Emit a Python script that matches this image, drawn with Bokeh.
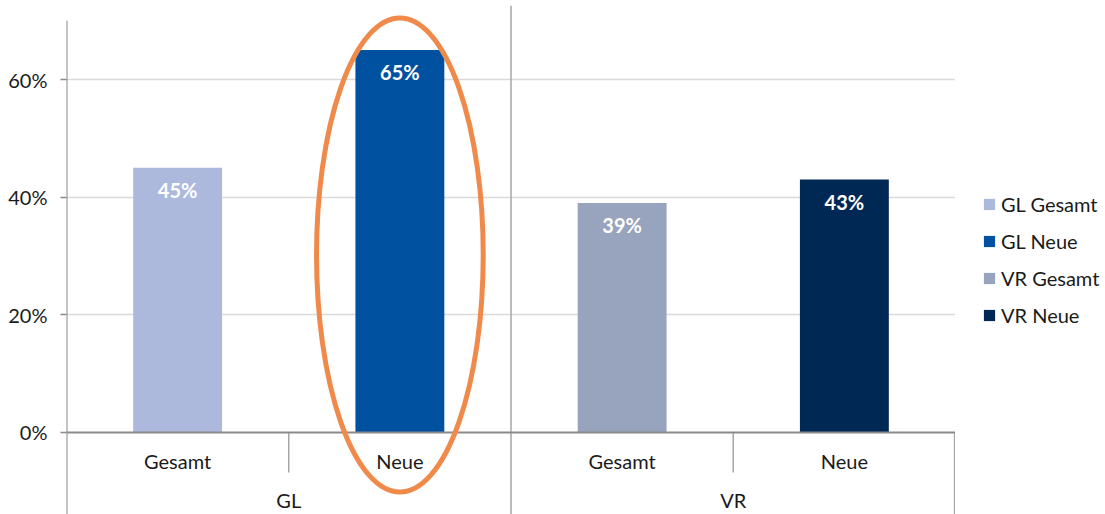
from bokeh.plotting import figure
from bokeh.models import (FactorRange, Range1d, FixedTicker, PrintfTickFormatter,
                          Legend, LegendItem)
from bokeh.layouts import row
from bokeh.core.properties import value
from bokeh.embed import file_html
from bokeh.resources import INLINE

# ---- data ----
groups = ["GL", "GL", "VR", "VR"]
subcats = ["Gesamt", "Neue", "Gesamt", "Neue"]
values = [45, 65, 39, 43]
series_names = ["GL Gesamt", "GL Neue", "VR Gesamt", "VR Neue"]
colors = ["#ACB9DD", "#0052A0", "#98A3BE", "#002855"]
y_ticks = [0, 20, 40, 60]
group_names = ["GL", "VR"]
highlight = ("GL", "Neue")

FONT = "Lato"
TXT = "#1a1a1a"
AXIS_GRAY = "#8a8a8a"
SEP_GRAY = "#a6a6a6"
FS = "20px"

factors = list(zip(groups, subcats))
y_lo, y_hi = -13.94, 72.58

p = figure(width=955, height=514,
           x_range=FactorRange(*factors, factor_padding=0, group_padding=0,
                               subgroup_padding=0, range_padding=0),
           y_range=Range1d(y_lo, y_hi),
           output_backend="svg", toolbar_location=None, title=None,
           x_axis_location=None,
           min_border_left=66, min_border_right=0,
           min_border_top=5, min_border_bottom=0)
p.outline_line_color = None
p.background_fill_color = "white"

# y axis
yax = p.yaxis[0]
yax.ticker = FixedTicker(ticks=y_ticks)
yax.formatter = PrintfTickFormatter(format="%d%%")
yax.axis_line_color = None
yax.major_tick_line_color = AXIS_GRAY
yax.major_tick_line_width = 1.5
yax.major_tick_out = 6
yax.major_tick_in = 0
yax.minor_tick_line_color = None
yax.major_label_standoff = 13
yax.major_label_text_font = FONT
yax.major_label_text_font_size = FS
yax.major_label_text_color = TXT

p.xgrid.visible = False
p.ygrid.ticker = FixedTicker(ticks=y_ticks[1:])
p.ygrid.grid_line_color = "#d9d9d9"
p.ygrid.grid_line_width = 1.5

n = len(factors)
# structural lines (synthetic category coordinates)
p.segment(x0=[0], y0=[y_lo], x1=[0], y1=[70], line_color=AXIS_GRAY, line_width=2)
p.segment(x0=[n // 2], y0=[y_lo], x1=[n // 2], y1=[y_hi], line_color=SEP_GRAY, line_width=1.5)
p.segment(x0=[1, 3], y0=[0, 0], x1=[1, 3], y1=[-6.8, -6.8], line_color=SEP_GRAY, line_width=1.5)
p.segment(x0=[n - 0.004], y0=[0], x1=[n - 0.004], y1=[y_lo], line_color=SEP_GRAY, line_width=1.5)

# bars
for f, v, c in zip(factors, values, colors):
    p.vbar(x=[f], top=[v], bottom=0, width=0.4, fill_color=c, line_color=None)

p.segment(x0=[0], y0=[0], x1=[n], y1=[0], line_color=AXIS_GRAY, line_width=2)

# value labels
p.text(x=factors, y=values, text=[f"{v}%" for v in values], y_offset=22,
       text_align="center", text_baseline="middle", text_color="white",
       text_font=value(FONT), text_font_style="bold", text_font_size=FS)

# category labels
p.text(x=factors, y=[-4.93] * n, text=subcats, text_align="center",
       text_baseline="middle", text_color=TXT, text_font=value(FONT),
       text_font_size=FS)
p.text(x=group_names, y=[-11.56] * len(group_names), text=group_names,
       text_align="center", text_baseline="middle", text_color=TXT,
       text_font=value(FONT), text_font_size=FS)

# highlight ellipse
p.ellipse(x=[highlight], y=[30.17], width=0.75, height=80.6,
          fill_color=None, line_color="#F08A4B", line_width=5)

# ---- legend panel ----
lg = figure(width=150, height=514, x_range=FactorRange(*series_names), y_range=Range1d(0, 1),
            output_backend="svg", toolbar_location=None, title=None,
            x_axis_location=None, y_axis_location=None,
            min_border_left=0, min_border_right=0, min_border_top=0, min_border_bottom=0)
lg.outline_line_color = None
lg.xgrid.visible = False
lg.ygrid.visible = False
items = []
for name, c in zip(series_names, colors):
    # zero-height proxy bar: only its legend swatch is visible
    r = lg.vbar(x=[name], top=[0], bottom=[0], width=0, fill_color=c, line_color=None)
    items.append(LegendItem(label=name, renderers=[r]))

legend = Legend(items=items, location=(27, 187))
legend.background_fill_alpha = 0
legend.border_line_color = None
legend.padding = 0
legend.margin = 0
legend.spacing = 13
legend.label_height = 24
legend.glyph_height = 14
legend.glyph_width = 14
legend.label_standoff = 5
legend.label_text_font = FONT
legend.label_text_font_size = FS
legend.label_text_color = TXT
lg.add_layout(legend)

layout = row(p, lg)
open("out.html", "w").write(file_html(layout, INLINE))
